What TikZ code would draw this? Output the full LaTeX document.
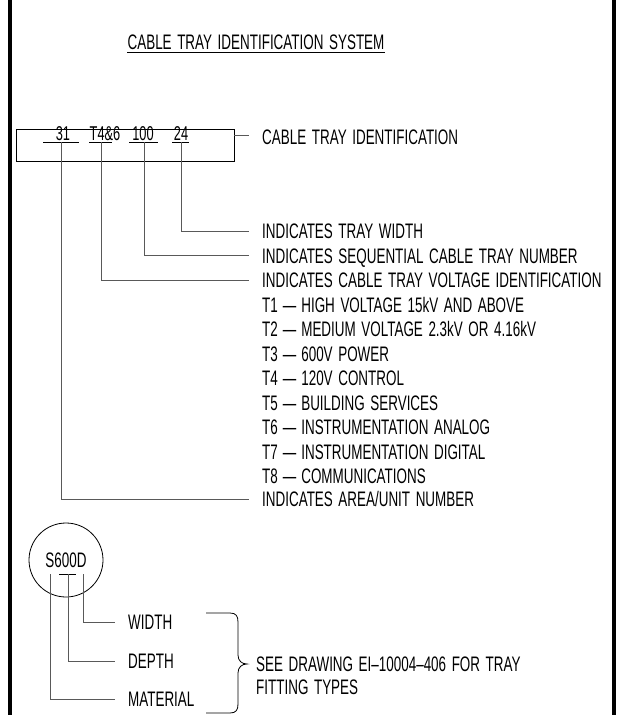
\documentclass[tikz,border=0pt]{standalone}
\usepackage{fontspec}
\setmainfont{Liberation Sans}[FakeStretch=0.64, WordSpace=1.5]
\usepackage{xcolor}
\definecolor{color_ink}{rgb}{0,0,0}
\definecolor{color_lead}{rgb}{0.35,0.35,0.35}
\definecolor{color_paper}{rgb}{1,1,1}
\newcommand{\tdash}{\hspace{5pt}---\hspace{5pt}}

\tikzset{
  lbl/.style={anchor=west, inner sep=0pt, text height=15pt, text depth=0pt,
    font=\fontsize{21}{21}\selectfont, color_ink},
  code/.style={anchor=base, inner sep=0pt, font=\fontsize{20}{20}\selectfont, color_ink},
  lead/.style={color_lead, line width=1pt},
}

\begin{document}
\begin{tikzpicture}[x=1pt, y=-1pt]
			% Fond et cadre
			\fill[color_paper] (0,0) rectangle (624,715);
			\useasboundingbox (0,0) rectangle (624,715);
			\draw[color_ink, line width=4pt] (10,0) -- (10,715);
			\draw[color_ink, line width=4pt] (614,0) -- (614,715);
			
			% Titre souligné
			\node[lbl, anchor=center] (title) at (256,42) {CABLE TRAY IDENTIFICATION SYSTEM};
			\draw[color_ink, line width=0.8pt] ([yshift=-2.5pt]title.south west) -- ([yshift=-2.5pt]title.south east);
			
			% Cadre de l'identifiant
			\draw[color_ink, line width=0.8pt] (16,129) rectangle (234,161);
			\coordinate (boxr) at (234,135);
			\node[code] (c31) at (63,140) {31};
			\node[code] (c46) at (105,140) {T4\&6};
			\node[code] (c100) at (143,140) {100};
			\node[code] (c24) at (181,140) {24};
			\draw[color_ink, line width=0.8pt] (43,142) -- (79,142)  (89,142) -- (112,142)
			  (129,142) -- (158,142)  (172,142) -- (189,142);
			\coordinate (u31) at (61,142);
			\coordinate (u46) at (101,142);
			\coordinate (u100) at (144,142);
			\coordinate (u24) at (181,142);
			
			% Textes de droite
			\node[lbl] (ident) at (262,137) {CABLE TRAY IDENTIFICATION};
			\node[lbl] (width) at (262,231) {INDICATES TRAY WIDTH};
			\node[lbl] (seq) at (262,255.5) {INDICATES SEQUENTIAL CABLE TRAY NUMBER};
			\node[lbl] (volt) at (262,280) {INDICATES CABLE TRAY VOLTAGE IDENTIFICATION};
			\foreach \tnum/\txt [count=\i] in {T1/HIGH VOLTAGE 15kV AND ABOVE,
			  T2/MEDIUM VOLTAGE 2.3kV OR 4.16kV, T3/600V POWER, T4/120V CONTROL,
			  T5/BUILDING SERVICES, T6/INSTRUMENTATION ANALOG,
			  T7/INSTRUMENTATION DIGITAL, T8/COMMUNICATIONS}
			  \node[lbl] (t\i) at (262,280+24.5*\i) {\tnum\tdash\txt};
			\node[lbl] (area) at (262,499) {INDICATES AREA/UNIT NUMBER};
			
			% Lignes de rappel
			\draw[lead] (boxr) -- ([xshift=-13pt]ident.west |- boxr);
			\draw[lead] (u24) |- ([xshift=-13pt]width.west);
			\draw[lead] (u100) |- ([xshift=-13pt]seq.west);
			\draw[lead] (u46) |- ([xshift=-13pt]volt.west);
			\draw[lead] (u31) |- ([xshift=-13pt]area.west);
			
			% Repère de raccord
			\draw[color_ink, line width=0.8pt] (66,560) circle (37);
			\node[lbl, anchor=center] (fit) at (66,560) {S600D};
			\draw[color_ink, line width=0.8pt] (59,574) -- (76,574);
			\coordinate (fs) at (50,574);
			\coordinate (fd) at (68,574);
			\coordinate (fw) at (83,574);
			\node[lbl] (fwidth) at (128,622) {WIDTH};
			\node[lbl] (fdepth) at (128,661) {DEPTH};
			\node[lbl] (fmat) at (128,699) {MATERIAL};
			\draw[lead] (fw) |- ([xshift=-13pt]fwidth.west);
			\draw[lead] (fd) |- ([xshift=-13pt]fdepth.west);
			\draw[lead] (fs) |- ([xshift=-13pt]fmat.west);
			
			% Accolade et renvoi
			\coordinate (btop) at (206,613);
			\coordinate (btip) at (247,664);
			\coordinate (bbot) at (206,713);
			\draw[color_ink, line width=0.8pt] (btop) -- (230,613) .. controls (236,613) and (238,616) .. (238,622)
			  -- (238,655) .. controls (238,661) and (242,664) .. (btip)
			  .. controls (242,664) and (238,667) .. (238,673) -- (238,704)
			  .. controls (238,710) and (236,713) .. (230,713) -- (bbot);
			\node[lbl, align=left, text height=, font=\fontsize{21}{23}\selectfont] (see) at (256,676)
			  {SEE DRAWING EI--10004--406 FOR TRAY\\FITTING TYPES};
		\end{tikzpicture}
\end{document}
